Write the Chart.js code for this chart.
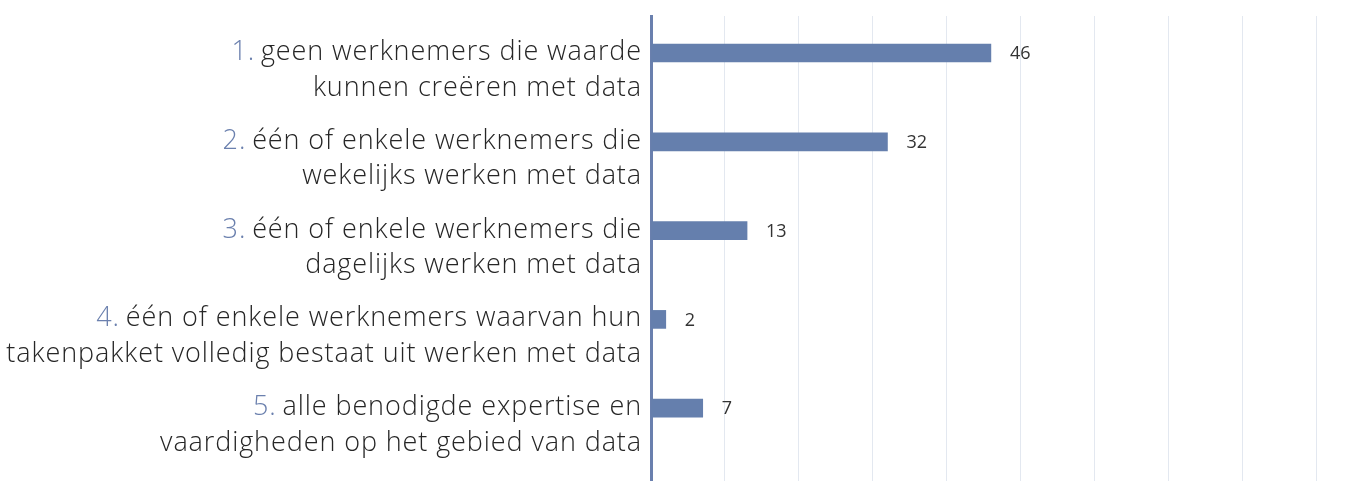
<!DOCTYPE html>
<html>
<head>
<meta charset="utf-8">
<script src="https://cdn.jsdelivr.net/npm/chart.js@4/dist/chart.umd.min.js"></script>
<style>
  html, body { margin: 0; padding: 0; background: #fff; }
  #wrap { width: 1366px; height: 481px; position: relative; }
</style>
</head>
<body>
<div id="wrap"><canvas id="barChart"></canvas></div>
<script>
// chart data
const itemNumbers = ['1.', '2.', '3.', '4.', '5.'];
const labelLines = [
    ['geen werknemers die waarde', 'kunnen creëren met data'],
    ['één of enkele werknemers die', 'wekelijks werken met data'],
    ['één of enkele werknemers die', 'dagelijks werken met data'],
    ['één of enkele werknemers waarvan hun', 'takenpakket volledig bestaat uit werken met data'],
    ['alle benodigde expertise en', 'vaardigheden op het gebied van data']
];
const values = [46, 32, 13, 2, 7];

const blue = '#657fad';
const labelFont = '300 27px "Open Sans", Lato, sans-serif';

// left side labels: coloured item number + two lines of text
const categoryLabels = {
    id: 'categoryLabels',
    afterDraw(chart) {
        const ctx = chart.ctx;
        const yScale = chart.scales.y;
        const right = chart.chartArea.left - 9;
        ctx.save();
        ctx.font = labelFont;
        if ('letterSpacing' in ctx) ctx.letterSpacing = '0.9px';
        ctx.textAlign = 'right';
        ctx.textBaseline = 'alphabetic';
        labelLines.forEach(function(lines, i) {
            const y = yScale.getPixelForValue(i);
            ctx.fillStyle = '#262626';
            ctx.fillText(lines[0], right, y + 7);
            ctx.fillText(lines[1], right, y + 42.5);
            const w = ctx.measureText(' ' + lines[0]).width;
            ctx.fillStyle = '#6b80ae';
            ctx.fillText(itemNumbers[i], right - w + 2, y + 7);
        });
        ctx.restore();
    }
};

// value labels to the right of the bars
const valueLabels = {
    id: 'valueLabels',
    afterDatasetsDraw(chart) {
        const ctx = chart.ctx;
        const meta = chart.getDatasetMeta(0);
        ctx.save();
        ctx.font = '18px "Open Sans", sans-serif';
        ctx.fillStyle = '#333';
        ctx.textAlign = 'left';
        ctx.textBaseline = 'middle';
        meta.data.forEach(function(bar, i) {
            ctx.fillText(String(values[i]), bar.x + 19, bar.y + 1);
        });
        ctx.restore();
    }
};

const ctx = document.getElementById('barChart').getContext('2d');
new Chart(ctx, {
    type: 'bar',
    data: {
        datasets: [{
            data: values.map(function(v, i) { return { x: v, y: i }; }),
            backgroundColor: blue,
            borderWidth: 0,
            barThickness: 18
        }]
    },
    options: {
        indexAxis: 'y',
        responsive: true,
        maintainAspectRatio: false,
        animation: false,
        layout: { padding: { top: 16, right: 50, bottom: 0, left: 0 } },
        plugins: {
            legend: { display: false },
            tooltip: { enabled: false }
        },
        scales: {
            x: {
                type: 'linear',
                min: 0,
                max: 90,
                ticks: { display: false, stepSize: 10 },
                grid: { color: '#e3e8f0', lineWidth: 1, drawTicks: false },
                border: { display: false }
            },
            y: {
                type: 'linear',
                reverse: true,
                offset: false,
                min: -0.417,
                max: 4.82,
                ticks: { display: false },
                grid: { display: false, drawTicks: false },
                border: { display: true, color: '#6a80ae', width: 3 },
                afterFit: function(scale) { scale.width = 651; }
            }
        }
    },
    plugins: [categoryLabels, valueLabels]
});
</script>
</body>
</html>
